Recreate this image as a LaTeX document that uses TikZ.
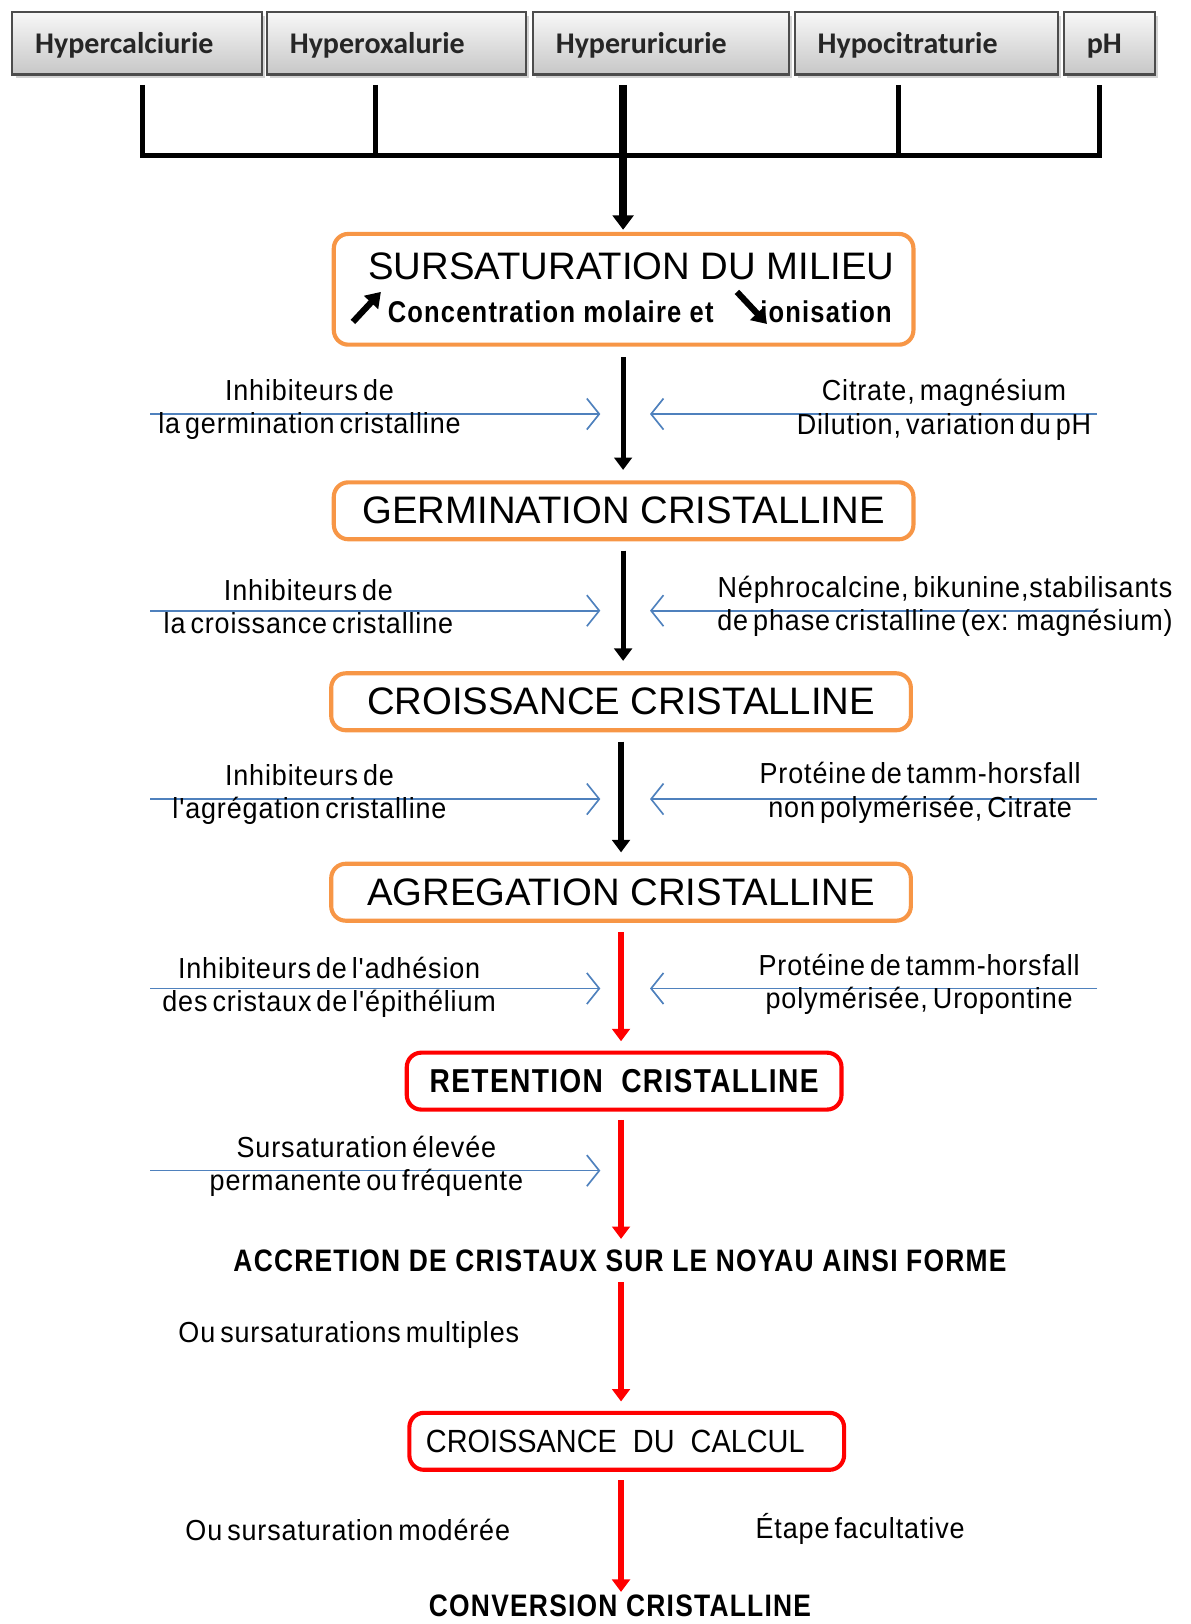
\documentclass[tikz,border=0pt]{standalone}
\usepackage{fontspec}
\setmainfont{Liberation Sans}
\newfontfamily\calib{Carlito}
\newfontfamily\narrowf[FakeStretch=0.93,LetterSpace=3,WordSpace=0.6]{Liberation Sans}
\newfontfamily\condf[FakeStretch=0.9]{Liberation Sans}
\newfontfamily\condbf[FakeStretch=0.85,LetterSpace=4]{Liberation Sans Bold}
\usetikzlibrary{arrows.meta,shadows,calc}
\definecolor{orng}{HTML}{F79646}
\definecolor{blu}{HTML}{4F81BD}
\definecolor{rd}{HTML}{FF0000}
\begin{document}
\begin{tikzpicture}[x=0.5pt,y=-0.5pt,
  topbox/.style={draw=black!70, line width=1pt, top color=black!3, bottom color=black!22,
    drop shadow={shadow xshift=1.5pt,shadow yshift=-1.5pt,opacity=0.35},
    minimum height=30pt, inner xsep=11pt, inner ysep=0pt, align=left,
    text height=12pt, text depth=2pt,
    font=\calib\bfseries\fontsize{14.5pt}{16pt}\selectfont, text=black!85},
  tree/.style={line width=2.5pt, line join=miter},
  stage/.style={draw=orng, line width=2pt, rounded corners=7pt, fill=white,
    minimum width=280pt, minimum height=27.5pt, inner sep=0pt,
    font=\fontsize{18.5pt}{22pt}\selectfont},
  redstage/.style={stage, draw=rd, minimum width=210pt},
  blkarrow/.style={line width=2.5pt, -{Triangle[width=8.5pt,length=6pt]}},
  redarrow/.style={blkarrow, draw=rd, fill=rd},
  inh/.style={draw=blu, line width=0.8pt, -{Straight Barb[length=6pt,width=15pt,line width=0.8pt]}},
  lbl/.style={align=center, inner sep=0pt, font=\narrowf\fontsize{14pt}{16pt}\selectfont},
  bigtxt/.style={inner sep=0pt, font=\condbf\fontsize{15pt}{17pt}\selectfont},
  smallarr/.style={line width=3pt, -{Triangle[width=9pt,length=7pt]}}
]
\useasboundingbox (0,0) rectangle (1150,1569);

% top boxes
\node[topbox, minimum width=120.5pt, text width=98.5pt] (h1) at (132.5,42) {Hypercalciurie};
\node[topbox, minimum width=125pt, text width=103pt] (h2) at (383,42) {Hyperoxalurie};
\node[topbox, minimum width=123.5pt, text width=101.5pt] (h3) at (638.5,42) {Hyperuricurie};
\node[topbox, minimum width=127pt, text width=105pt] (h4) at (895,42) {Hypocitraturie};
\node[topbox, minimum width=44pt, text width=22pt] (h5) at (1072,42) {pH};

% tree
\coordinate (t1) at (138,82);
\coordinate (t2) at (363,82);
\coordinate (t3) at (602,82);
\coordinate (t4) at (868,82);
\coordinate (t5) at (1062,82);
\coordinate (j1) at (138,150);
\coordinate (j5) at (1062,150);
\draw[tree] (t1) -- (j1) -- (j5) -- (t5);
\draw[tree] (t2) -- (t2 |- j1);
\draw[tree] (t4) -- (t4 |- j1);

% stages
\node[stage, minimum height=53.5pt] (s1) at (602.5,279.5) {};
\node[inner sep=0pt, font=\fontsize{18.5pt}{22pt}\selectfont] (s1a) at (610,257) {SURSATURATION DU MILIEU};
\node[bigtxt, font=\condbf\fontsize{14.5pt}{16pt}\selectfont] (s1b) at (532,301) {Concentration molaire et};
\node[bigtxt, font=\condbf\fontsize{14.5pt}{16pt}\selectfont] (s1c) at (798,301) {ionisation};
\coordinate (u0) at (341,311); \coordinate (u1) at (368,282);
\coordinate (d0) at (712,282); \coordinate (d1) at (741,313);
\draw[smallarr] (u0) -- (u1);
\draw[smallarr] (d0) -- (d1);

\draw[line width=3.5pt, -{Triangle[width=10pt,length=7pt]}, shorten >=1pt] (t3) -- (s1.north -| t3);

\node[stage] (s2) at (602.5,493.5) {GERMINATION CRISTALLINE};
\node[stage] (s3) at (600,678) {CROISSANCE CRISTALLINE};
\node[stage] (s4) at (600,862) {AGREGATION CRISTALLINE};
\node[redstage, font=\condbf\fontsize{16pt}{18pt}\selectfont] (r1) at (603,1044.5) {RETENTION\ \ CRISTALLINE};
\node[bigtxt] (acc) at (599,1218) {ACCRETION DE CRISTAUX SUR LE NOYAU AINSI FORME};
\node[redstage, font=\condf\fontsize{15.5pt}{18pt}\selectfont] (r2) at (605.5,1392.5) {CROISSANCE\ \ DU\ \ CALCUL\hspace*{11pt}};
\node[bigtxt] (conv) at (599,1551) {CONVERSION CRISTALLINE};

\coordinate (axA) at (602,0);
\coordinate (axB) at (600,0);
\draw[blkarrow, shorten <=5pt, shorten >=5pt] (s1.south -| axA) -- (s2.north -| axA);
\draw[blkarrow, shorten <=4.5pt, shorten >=5pt] (s2.south -| axA) -- (s3.north -| axA);
\draw[blkarrow, shorten <=4.5pt, shorten >=4.5pt] (s3.south -| axB) -- (s4.north -| axB);
\draw[redarrow, shorten <=4.5pt, shorten >=4.5pt] (s4.south -| axB) -- (r1.north -| axB);
\draw[redarrow, shorten <=4pt, shorten >=5pt] (r1.south -| axB) -- (acc.north -| axB);
\draw[redarrow, shorten <=5pt, shorten >=4.5pt] (acc.south -| axB) -- (r2.north -| axB);
\draw[redarrow, shorten <=4pt, shorten >=1pt] (r2.south -| axB) -- (conv.north -| axB);

% inhibitor arrows
\foreach \n/\y in {1/400,2/590,3/772,4/955,5/1131}{
  \coordinate (bl\n) at (145,\y);
  \coordinate (el\n) at (580,\y);
}
\foreach \n/\y in {1/400,2/590,3/772,4/955}{
  \coordinate (br\n) at (1060,\y);
  \coordinate (er\n) at (628,\y);
}
\foreach \n in {1,2,3,4,5}{ \draw[inh] (bl\n) -- (el\n); }
\foreach \n in {1,2,3,4}{ \draw[inh] (br\n) -- (er\n); }

% labels
\node[lbl] (l1) at (299,396) {Inhibiteurs de\\la germination cristalline};
\node[lbl] (r1l) at (912,396) {Citrate, magnésium\\Dilution, variation du pH};
\node[lbl] (l2) at (298,586) {Inhibiteurs de\\la croissance cristalline};
\node[lbl] (r2l) at (913,586) {Néphrocalcine, bikunine,stabilisants\\de phase cristalline (ex: magnésium)};
\node[lbl] (l3) at (299,768) {Inhibiteurs de\\l'agrégation cristalline};
\node[lbl] (r3l) at (889,766) {Protéine de tamm-horsfall\\non polymérisée, Citrate};
\node[lbl] (l4) at (318,954) {Inhibiteurs de l'adhésion\\des cristaux de l'épithélium};
\node[lbl] (r4l) at (888,951) {Protéine de tamm-horsfall\\polymérisée, Uropontine};
\node[lbl] (l5) at (354,1127) {Sursaturation élevée\\permanente ou fréquente};
\node[lbl] (l6) at (337,1290) {Ou sursaturations multiples};
\node[lbl] (l7) at (336,1478) {Ou sursaturation modérée};
\node[lbl] (l8) at (831,1477) {Étape facultative};
\end{tikzpicture}
\end{document}
